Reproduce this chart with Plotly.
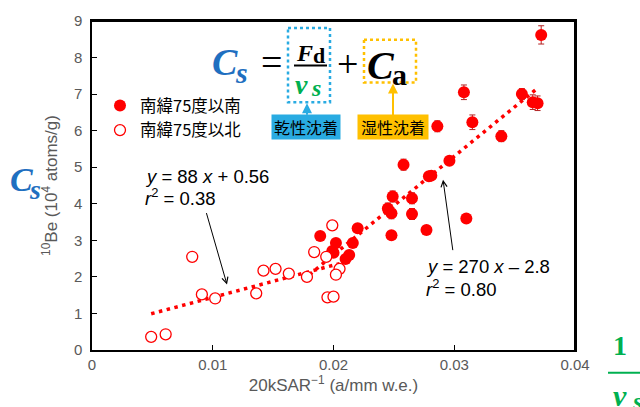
import plotly.graph_objects as go

# ---- data ----
south_x = [0.0372, 0.0308, 0.0356, 0.0365, 0.0369, 0.0315, 0.0339, 0.0286,
           0.0258, 0.0296, 0.0281, 0.0279, 0.0249, 0.0265, 0.0245, 0.0248,
           0.0265, 0.0310, 0.0248, 0.0277, 0.0220, 0.0189, 0.0216, 0.0202,
           0.0199, 0.0200, 0.0213, 0.0210]
south_y = [8.62, 7.05, 7.00, 6.78, 6.75, 6.23, 5.85, 6.12,
           5.07, 5.18, 4.77, 4.75, 4.20, 4.15, 3.87, 3.74,
           3.72, 3.60, 3.14, 3.28, 3.33, 3.12, 2.93, 2.93,
           2.71, 2.66, 2.60, 2.49]
south_err = [0.25, 0.20, 0.15, 0.20, 0.20, 0.20, 0.15, 0.15,
             0.15, 0.10, 0.10, 0.10, 0.15, 0.15, 0.15, 0.15,
             0.15, 0.08, 0.10, 0.10, 0.10, 0.10, 0.08, 0.08,
             0.08, 0.08, 0.08, 0.08]

north_x = [0.0049, 0.0061, 0.0083, 0.0091, 0.0102, 0.0136, 0.0142, 0.0152,
           0.0163, 0.0178, 0.0184, 0.0194, 0.0199, 0.0205, 0.0202, 0.0195, 0.0200]
north_y = [0.36, 0.43, 2.55, 1.52, 1.41, 1.55, 2.17, 2.22,
           2.09, 2.00, 2.68, 2.55, 3.41, 2.22, 2.06, 1.44, 1.46]

fit1 = {"slope": 88, "intercept": 0.56, "xrange": [0.0049, 0.0205]}
fit2 = {"slope": 270, "intercept": -2.8, "xrange": [0.0175, 0.0368]}

x_ticks = [0, 0.01, 0.02, 0.03, 0.04]
x_ticklabels = ["0", "0.01", "0.02", "0.03", "0.04"]
y_ticks = list(range(0, 10))

RED = "#FF0000"
GRAY = "#595959"
BLUE = "#1F6FC0"
GREEN = "#00B050"
SKY = "#29ABE2"
ORANGE = "#FFC000"

L, R, T, B = 92, 575, 18, 350
W, H = 640, 407


def px(x):
    return (x - L) / (R - L)


def py(y):
    return (B - y) / (B - T)


fig = go.Figure()

for f in (fit1, fit2):
    xs = f["xrange"]
    ys = [f["slope"] * v + f["intercept"] for v in xs]
    fig.add_trace(go.Scatter(x=xs, y=ys, mode="lines", showlegend=False,
                             line=dict(color=RED, width=3.5, dash="3.5px,4.5px"),
                             hoverinfo="skip"))

fig.add_trace(go.Scatter(
    x=south_x, y=south_y, mode="markers", name="南緯75度以南",
    marker=dict(color=RED, size=12, line=dict(width=0)),
    error_y=dict(type="data", array=south_err, visible=True,
                 color="#B22222", thickness=1, width=3)))
fig.add_trace(go.Scatter(
    x=north_x, y=north_y, mode="markers", name="南緯75度以北",
    marker=dict(color="white", size=11, line=dict(color=RED, width=1.3))))

SERIF = "Liberation Serif"
SANS = "Liberation Sans"
ann = []


def txt(xp, yp, text, size, color="black", family=SERIF, **kw):
    d = dict(x=px(xp), y=py(yp), xref="paper", yref="paper", showarrow=False,
             xanchor="center", yanchor="middle",
             text=text, font=dict(family=family, size=size, color=color))
    d.update(kw)
    ann.append(d)


# regression labels
txt(143, 175, "<i>y</i> = 88 <i>x</i> + 0.56", 18.5, family=SANS, xanchor="left")
txt(143, 196, "<i>r</i><sup>2</sup> = 0.38", 18.5, family=SANS, xanchor="left")
txt(424, 266, "<i>y</i> = 270 <i>x</i> – 2.8", 18.5, family=SANS, xanchor="left")
txt(424, 287, "<i>r</i><sup>2</sup> = 0.80", 18.5, family=SANS, xanchor="left")
# arrows
ann.append(dict(x=0.01118, y=1.79, xref="x", yref="y", text="", showarrow=True,
                ax=-21, ay=-73, arrowhead=5, arrowsize=1.2, arrowwidth=1, arrowcolor="black"))
ann.append(dict(x=0.02907, y=4.66, xref="x", yref="y", text="", showarrow=True,
                ax=10, ay=72, arrowhead=5, arrowsize=1.2, arrowwidth=1, arrowcolor="black"))

# equation  Cs = Fd/vs + Ca
txt(225, 59, "<b><i>C</i></b>", 38, BLUE)
txt(241, 70, "<b><i>s</i></b>", 30, BLUE)
txt(271, 59, "=", 38)
txt(304, 50, "<b><i>F</i></b>", 24)
txt(319, 53, "<b>d</b>", 22)
txt(301, 82, "<b><i>v</i></b>", 28, GREEN)
txt(316, 86, "<b><i>s</i></b>", 24, GREEN)
txt(347, 61, "+", 38)
txt(381, 63, "<b><i>C</i></b>", 40)
txt(399, 72, "<b>a</b>", 30)
# labels dry/wet
txt(306, 125, "乾性沈着", 16, family="Noto Sans CJK JP", bgcolor=SKY, width=66, height=22)
txt(393, 125, "湿性沈着", 16, family="Noto Sans CJK JP", bgcolor=ORANGE, width=68, height=22)
# left Cs
txt(21, 178, "<b><i>C</i></b>", 34, BLUE)
txt(35, 188, "<b><i>s</i></b>", 28, BLUE)
# right 1/vs
txt(620, 345, "<b>1</b>", 28, GREEN)
txt(620, 396, "<b><i>v</i></b>", 30, GREEN)
txt(637, 402, "<b><i>s</i></b>", 26, GREEN)

shapes = []
# plot frame (right and top edges)
shapes.append(dict(type="line", xref="paper", yref="paper", x0=px(L), x1=px(R + 1),
                   y0=py(T), y1=py(T), line=dict(color="black", width=2), layer="above"))
shapes.append(dict(type="line", xref="paper", yref="paper", x0=px(R), x1=px(R),
                   y0=py(T), y1=py(B), line=dict(color="black", width=2), layer="above"))
shapes.append(dict(type="rect", xref="paper", yref="paper",
                   x0=px(288), x1=px(330), y0=py(25), y1=py(100),
                   line=dict(color=SKY, width=2.5, dash="dot")))
shapes.append(dict(type="rect", xref="paper", yref="paper",
                   x0=px(364), x1=px(416), y0=py(37), y1=py(80),
                   line=dict(color=ORANGE, width=2.5, dash="dot")))
shapes.append(dict(type="line", xref="paper", yref="paper",
                   x0=px(294), x1=px(327), y0=py(63), y1=py(63),
                   line=dict(color="black", width=2)))
shapes.append(dict(type="line", xref="paper", yref="paper",
                   x0=px(608), x1=px(645), y0=py(373), y1=py(373),
                   line=dict(color=GREEN, width=2)))

# small arrows from labels to boxes
ann.append(dict(x=px(307), y=py(101), xref="paper", yref="paper", text="", showarrow=True,
                ax=0, ay=13, arrowhead=2, arrowsize=1, arrowwidth=2, arrowcolor=SKY))
ann.append(dict(x=px(393), y=py(81), xref="paper", yref="paper", text="", showarrow=True,
                ax=0, ay=33, arrowhead=2, arrowsize=1, arrowwidth=2, arrowcolor=ORANGE))

fig.update_layout(
    width=W, height=H,
    margin=dict(l=L, r=W - R, t=T, b=H - B),
    paper_bgcolor="white", plot_bgcolor="white",
    annotations=ann, shapes=shapes,
    showlegend=True,
    legend=dict(x=px(100), y=py(86), xanchor="left", yanchor="top",
                bgcolor="rgba(0,0,0,0)", tracegroupgap=0,
                font=dict(family="Noto Sans CJK JP", size=16.5, color="black"),
                itemwidth=30),
    xaxis=dict(range=[0, 0.04], tickvals=x_ticks, ticktext=x_ticklabels,
               showgrid=False, zeroline=False, showline=True, mirror=True,
               linecolor="black", linewidth=1.5, ticks="inside", ticklen=5,
               tickcolor="black",
               tickfont=dict(family=SANS, size=15, color=GRAY),
               title=dict(text="20kSAR<sup>−1</sup> (a/mm w.e.)", standoff=6,
                          font=dict(family=SANS, size=17, color=GRAY))),
    yaxis=dict(range=[0, 9], tickvals=y_ticks,
               showgrid=False, zeroline=False, showline=True, mirror=True,
               linecolor="black", linewidth=1.5, ticks="inside", ticklen=5,
               tickcolor="black", ticklabelstandoff=5,
               tickfont=dict(family=SANS, size=15, color=GRAY),
               title=dict(text="<sup>10</sup>Be (10<sup>4</sup> atoms/g)", standoff=12,
                          font=dict(family=SANS, size=17, color=GRAY))),
)

fig.write_html("out.html", config={"displayModeBar": False},
               post_script="document.body.style.margin='0px';document.body.style.overflow='hidden';")
